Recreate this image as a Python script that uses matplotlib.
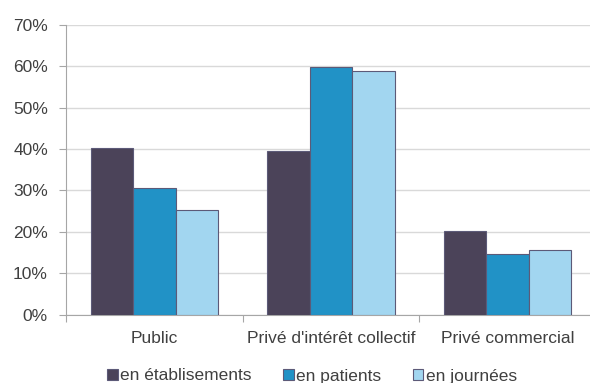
import numpy as np
import matplotlib
matplotlib.use('Agg')
import matplotlib.pyplot as plt

categories = ['Public', "Privé d'intérêt collectif", 'Privé commercial']
series_names = ['en établisements', 'en patients', 'en journées']
etablissements = [40.2, 39.5, 20.3]
patients = [30.7, 59.9, 14.6]
journees = [25.3, 58.9, 15.5]
colors = ['#4b4359', '#2192c6', '#a2d6f0']

plt.rcParams['font.family'] = ['Liberation Sans', 'DejaVu Sans']
text_col = '#404040'
fs = 12.5

fig = plt.figure(figsize=(5.9, 3.83), dpi=100)
ax = fig.add_axes([66 / 590, (383 - 314.7) / 383, 530 / 590, 290 / 383])

x = np.arange(len(categories))
w = 0.24
for k, (vals, name) in enumerate(zip([etablissements, patients, journees], series_names)):
    ax.bar(x + (k - 1) * w, vals, w, color=colors[k], edgecolor='#5c5a78',
           linewidth=0.8, label=name, zorder=3)

ax.set_ylim(0, 70)
ax.set_xlim(-0.5, 2.5)
ax.set_yticks(np.arange(0, 71, 10))
ax.set_yticklabels(['%d%%' % v for v in range(0, 71, 10)])
ax.yaxis.grid(True, color='#d9d9d9', linewidth=1, zorder=0)
ax.set_axisbelow(True)

ax.set_xticks([-0.5, 0.5, 1.5, 2.5])
ax.set_xticklabels([])
ax.set_xticks(x, minor=True)
ax.set_xticklabels(categories, minor=True)
ax.tick_params(axis='x', which='minor', length=0, pad=12, labelsize=fs, labelcolor=text_col)
ax.tick_params(axis='x', which='major', length=5, color='#a6a6a6')
ax.tick_params(axis='y', length=5, color='#a6a6a6', pad=8, labelsize=fs, labelcolor=text_col)

for s in ['top', 'right']:
    ax.spines[s].set_visible(False)
for s in ['left', 'bottom']:
    ax.spines[s].set_color('#a6a6a6')

leg = fig.legend(loc='center', bbox_to_anchor=(312 / 590, 1 - 376 / 383), ncol=3,
                 frameon=False, fontsize=fs, handlelength=0.6, handleheight=0.6,
                 handletextpad=0.15, columnspacing=1.8)
for t in leg.get_texts():
    t.set_color(text_col)

fig.savefig('out.png', dpi=100)
